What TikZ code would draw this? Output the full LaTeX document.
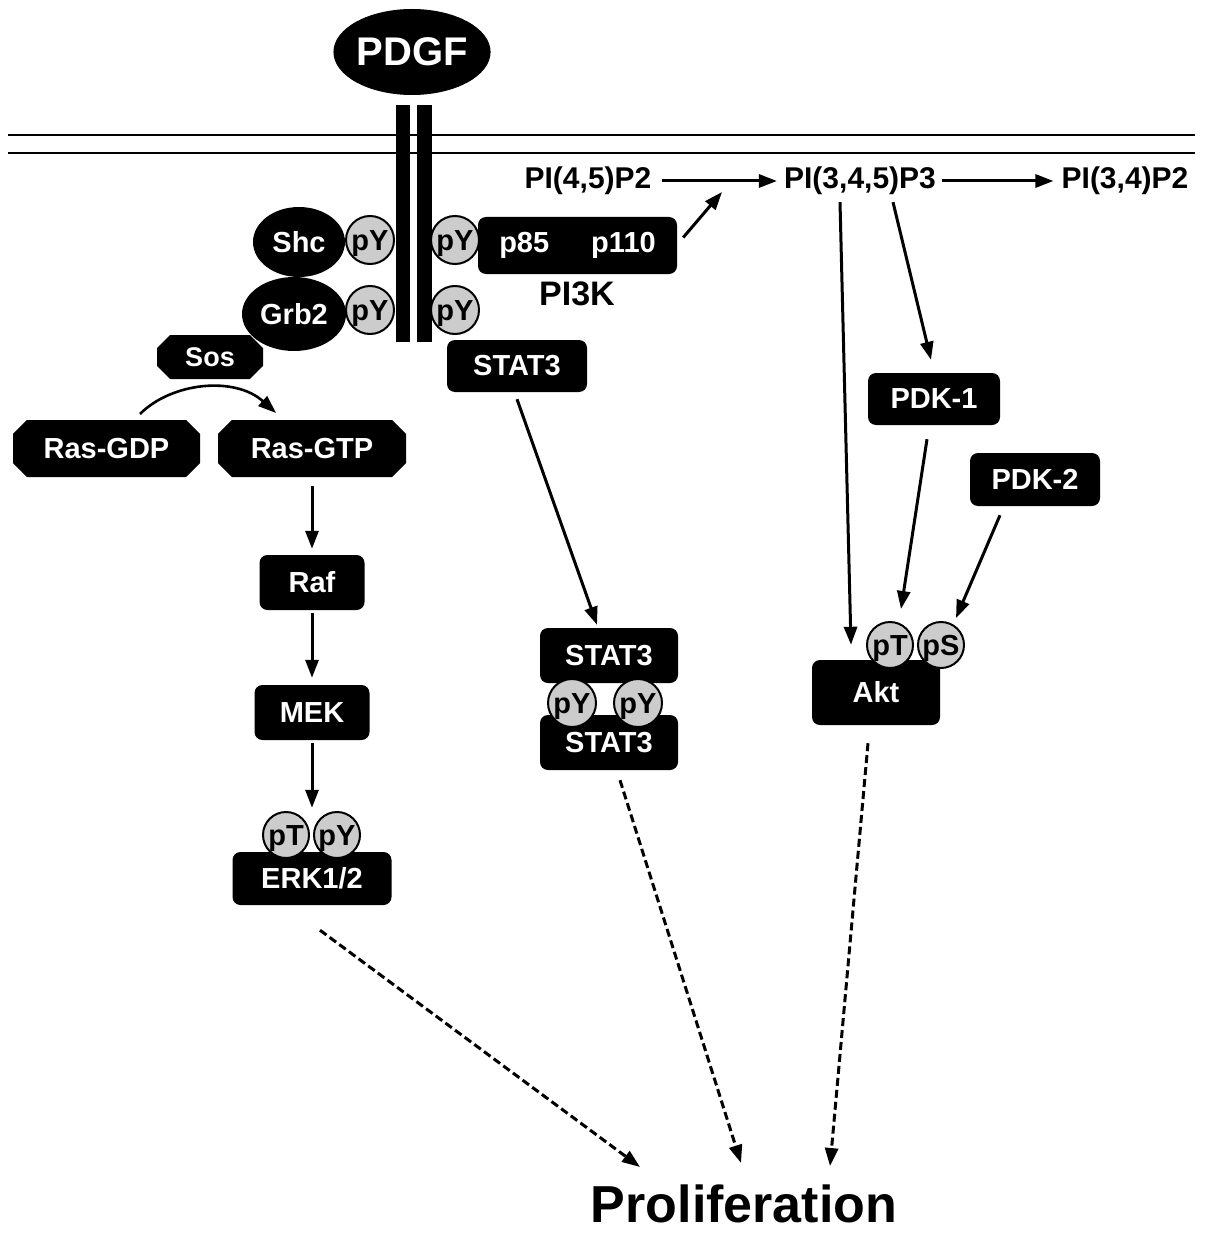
\documentclass[tikz,border=0pt]{standalone}
\usepackage{fontspec}
\setmainfont{Liberation Sans}
\usetikzlibrary{arrows.meta,shapes.geometric,shapes.misc,calc}
\newcommand\fsz[1]{\fontsize{#1}{#1}\selectfont\bfseries}
\begin{document}
\begin{tikzpicture}[x=1pt,y=-1pt,
  blk/.style={rectangle,rounded corners=8pt,fill=black,text=white,inner sep=0pt,font=\fsz{29}},
  oval/.style={ellipse,fill=black,text=white,inner sep=0pt,font=\fsz{29}},
  chb/.style={chamfered rectangle,chamfered rectangle xsep=14pt,fill=black,text=white,inner sep=0pt,font=\fsz{29}},
  phos/.style={circle,draw=black,line width=2pt,fill=gray!40,text=black,minimum size=48pt,inner sep=0pt,font=\fsz{29},text height=23pt,text depth=2pt},
  bar/.style={rectangle,fill=black,inner sep=0pt,minimum width=14pt,minimum height=237pt},
  lbl/.style={text=black,inner sep=0pt,font=\fsz{30}},
  arr/.style={line width=3pt,-{Triangle[length=18pt,width=13pt]}},
  darr/.style={line width=3pt,dash pattern=on 8pt off 4pt,-{Triangle[length=18pt,width=13pt]}}]
\useasboundingbox (0,0) rectangle (1207,1233);

% membrane
\draw[line width=2.2pt] (8,135) -- (1195,135);
\draw[line width=2.2pt] (8,153) -- (1195,153);

% ligand and receptor
\node[oval,minimum width=150pt,minimum height=86pt,font=\fsz{40}] (pdgf) at (412,52) {PDGF};
\node[bar] (rl) at (403,223.5) {};
\node[bar,minimum width=15pt] (rr) at (424.5,223.5) {};

% left adaptors
\node[chb,minimum width=106pt,minimum height=44pt,font=\fsz{27}] (sos) at (210,357) {Sos};
\node[oval,minimum width=92pt,minimum height=70pt] (shc) at (299,242) {Shc};
\node[oval,minimum width=104pt,minimum height=74pt] (grb2) at (294,314) {Grb2};
\node[phos] (py1) at (370,240) {pY};
\node[phos] (py2) at (370,310) {pY};
\node[phos] (py3) at (455,240) {pY};
\node[phos] (py4) at (455,310) {pY};

% PI3K
\node[blk,minimum width=199pt,minimum height=57pt] (pi3k) at (577.5,245.5) {p85\hspace{42pt}p110};
\node[lbl,font=\fsz{34}] (pi3klbl) at (577,294) {PI3K};

% STAT3 at receptor
\node[blk,minimum width=140pt,minimum height=52pt] (stat3a) at (517,366) {STAT3};

% Ras / MAPK
\node[chb,minimum width=187pt,minimum height=57pt] (rasgdp) at (106.5,448.5) {Ras-GDP};
\node[chb,minimum width=188pt,minimum height=57pt] (rasgtp) at (312,448.5) {Ras-GTP};
\coordinate (cg1) at (140,414);
\coordinate (cg2) at (276,413);
\draw[arr,line width=2.6pt] (cg1) .. controls (172,382) and (235,376) .. (cg2);
\node[blk,minimum width=105pt,minimum height=55pt] (raf) at (312,582.5) {Raf};
\node[blk,minimum width=115pt,minimum height=55pt] (mek) at (312,712.5) {MEK};
\node[blk,minimum width=159pt,minimum height=53pt] (erk) at (312,878.5) {ERK1/2};
\node[phos,minimum size=46pt] (ept) at (286,835) {pT};
\node[phos,minimum size=46pt] (epy) at (337,835) {pY};
\draw[arr] ([yshift=-9pt]rasgtp.south) -- ([yshift=6pt]raf.north);
\draw[arr] ([yshift=-3pt]raf.south) -- ([yshift=7pt]mek.north);
\draw[arr] ([yshift=-3pt]mek.south) -- ([yshift=44pt]erk.north);

% STAT3 dimer
\node[blk,minimum width=138pt,minimum height=55pt] (stat3b) at (609,655.5) {STAT3};
\node[blk,minimum width=138pt,minimum height=55pt] (stat3c) at (609,742.5) {STAT3};
\node[phos] (spy1) at (572,703) {pY};
\node[phos] (spy2) at (638,703) {pY};
\draw[arr] ([yshift=-7pt]stat3a.south) -- ([xshift=-12pt,yshift=3pt]stat3b.north);

% phosphoinositides
\node[lbl] (pi45) at (588,181) {PI(4,5)P2};
\node[lbl] (pi345) at (860,181) {PI(3,4,5)P3};
\node[lbl] (pi34) at (1125,181) {PI(3,4)P2};
\draw[arr] ([xshift=10pt]pi45.east) -- ([xshift=-7pt]pi345.west);
\draw[arr] ([xshift=6pt]pi345.east) -- ([xshift=-8pt]pi34.west);
\draw[arr] ([xshift=6pt,yshift=8pt]pi3k.east) -- (722,192);

% PDK / Akt
\node[blk,minimum width=132pt,minimum height=52pt] (pdk1) at (934,399) {PDK-1};
\node[blk,minimum width=130pt,minimum height=53pt] (pdk2) at (1035,479.5) {PDK-2};
\node[blk,minimum width=128pt,minimum height=65pt] (akt) at (876,692.5) {Akt};
\node[phos,minimum size=46pt] (apt) at (890,645) {pT};
\node[phos,minimum size=46pt] (aps) at (941,645) {pS};
\draw[arr] ([xshift=-20pt,yshift=-7pt]pi345.south) -- ([xshift=-25pt,yshift=15pt]akt.north);
\draw[arr] ([xshift=33pt,yshift=-7pt]pi345.south) -- ([xshift=-3pt,yshift=13pt]pdk1.north);
\draw[arr] ([xshift=-7pt,yshift=-14pt]pdk1.south) -- ([xshift=11pt,yshift=12pt]apt.north);
\draw[arr] ([xshift=-35pt,yshift=-9pt]pdk2.south) -- ([xshift=15pt,yshift=3pt]aps.north);

% proliferation
\node[lbl,font=\fsz{52},anchor=base,text depth=0pt] (prolif) at (744,1222) {Proliferation};
\coordinate (e1) at (640,1167);
\coordinate (e2) at (741,1163);
\coordinate (e3) at (830,1166);
\draw[darr] ([xshift=8pt,yshift=-25pt]erk.south) -- (e1);
\draw[darr] ([xshift=11pt,yshift=-10pt]stat3c.south) -- (e2);
\draw[darr] ([xshift=-8pt,yshift=-18pt]akt.south) -- (e3);
\end{tikzpicture}
\end{document}
